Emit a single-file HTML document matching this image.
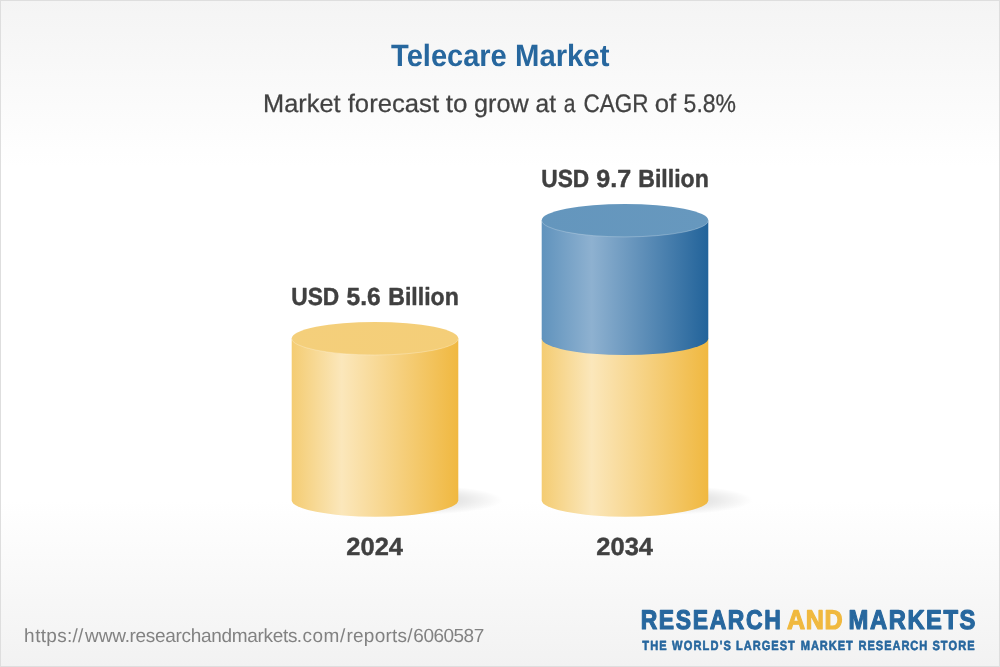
<!DOCTYPE html>
<html lang="en">
<head>
<meta charset="utf-8">
<title>Telecare Market</title>
<style>
  html, body { margin: 0; padding: 0; background: #ffffff; }
  body { width: 1000px; height: 667px; overflow: hidden; }
  svg { display: block; }
  text { font-family: "Liberation Sans", sans-serif; text-rendering: geometricPrecision; }
  .b { font-weight: bold; }
</style>
</head>
<body>
<svg width="1000" height="667" viewBox="0 0 1000 667">
  <defs>
    <linearGradient id="bg" x1="0" y1="0" x2="0" y2="1">
      <stop offset="0" stop-color="#f4f4f4"/>
      <stop offset="0.25" stop-color="#ffffff"/>
      <stop offset="0.75" stop-color="#ffffff"/>
      <stop offset="1" stop-color="#f2f2f2"/>
    </linearGradient>
    <linearGradient id="gy" x1="0" y1="0" x2="1" y2="0">
      <stop offset="0" stop-color="#f4cc72"/>
      <stop offset="0.30" stop-color="#fbe7bb"/>
      <stop offset="1" stop-color="#f0b840"/>
    </linearGradient>
    <linearGradient id="gb" x1="0" y1="0" x2="1" y2="0">
      <stop offset="0" stop-color="#6093bd"/>
      <stop offset="0.30" stop-color="#8eb1d0"/>
      <stop offset="1" stop-color="#22639a"/>
    </linearGradient>
    <linearGradient id="ty" x1="0" y1="0" x2="1" y2="0">
      <stop offset="0" stop-color="#f4cf7b"/>
      <stop offset="1" stop-color="#f4ce78"/>
    </linearGradient>
    <linearGradient id="tb" x1="0" y1="0" x2="1" y2="0">
      <stop offset="0" stop-color="#6496bd"/>
      <stop offset="1" stop-color="#6798be"/>
    </linearGradient>
    <radialGradient id="sh" cx="0.5" cy="0.5" r="0.5">
      <stop offset="0" stop-color="#000" stop-opacity="0.15"/>
      <stop offset="0.55" stop-color="#000" stop-opacity="0.09"/>
      <stop offset="1" stop-color="#000" stop-opacity="0"/>
    </radialGradient>
  </defs>

  <!-- background + frame -->
  <rect x="0" y="0" width="1000" height="667" fill="url(#bg)"/>
  <rect x="0.5" y="0.5" width="999" height="666" fill="none" stroke="#dedede" stroke-width="1"/>

  <!-- shadows -->
  <ellipse cx="415" cy="500" rx="88" ry="15" fill="url(#sh)"/>
  <ellipse cx="665" cy="500" rx="88" ry="15" fill="url(#sh)"/>

  <!-- cylinder 2024 -->
  <path d="M291.7 338.5 L291.7 500.2 A83.3 16.5 0 0 0 458.3 500.2 L458.3 338.5 Z" fill="url(#gy)"/>
  <ellipse cx="375" cy="338.5" rx="83.3" ry="16.5" fill="url(#ty)"/>
  <path d="M291.7 338.5 A83.3 16.5 0 0 0 458.3 338.5" fill="none" stroke="#ffffff" stroke-opacity="0.32" stroke-width="0.8"/>

  <!-- cylinder 2034 -->
  <path d="M541.7 338.5 L541.7 500.2 A83.3 16.5 0 0 0 708.3 500.2 L708.3 338.5 Z" fill="url(#gy)"/>
  <path d="M541.7 220.4 L541.7 338.5 A83.3 16.5 0 0 0 708.3 338.5 L708.3 220.4 Z" fill="url(#gb)"/>
  <ellipse cx="625" cy="220.4" rx="83.3" ry="16.5" fill="url(#tb)"/>
  <path d="M541.7 220.4 A83.3 16.5 0 0 0 708.3 220.4" fill="none" stroke="#ffffff" stroke-opacity="0.30" stroke-width="0.8"/>
  <!--TEXT-->
  <text class="b" y="66" font-size="30.8" fill="#27679e"><tspan x="391.11" textLength="115.64" lengthAdjust="spacingAndGlyphs">Telecare</tspan> <tspan x="515.02" textLength="94.38" lengthAdjust="spacingAndGlyphs">Market</tspan></text>
  <text y="112" font-size="25.3" fill="#424242" stroke="#424242" stroke-width="0.25" stroke-linejoin="round"><tspan x="263.03" textLength="77.56" lengthAdjust="spacingAndGlyphs">Market</tspan> <tspan x="347.74" textLength="91.32" lengthAdjust="spacingAndGlyphs">forecast</tspan> <tspan x="445.73" textLength="21.72" lengthAdjust="spacingAndGlyphs">to</tspan> <tspan x="474.05" textLength="54.76" lengthAdjust="spacingAndGlyphs">grow</tspan> <tspan x="535.58" textLength="20.52" lengthAdjust="spacingAndGlyphs">at</tspan> <tspan x="563.63" textLength="11.72" lengthAdjust="spacingAndGlyphs">a</tspan> <tspan x="583.5" textLength="65.03" lengthAdjust="spacingAndGlyphs">CAGR</tspan> <tspan x="654.83" textLength="21.42" lengthAdjust="spacingAndGlyphs">of</tspan> <tspan x="683.6" textLength="52.46" lengthAdjust="spacingAndGlyphs">5.8%</tspan></text>
  <text class="b" y="305" font-size="24.8" fill="#404040" stroke="#404040" stroke-width="0.45" stroke-linejoin="round"><tspan x="291.26" textLength="47.95" lengthAdjust="spacingAndGlyphs">USD</tspan> <tspan x="346.49" textLength="34.15" lengthAdjust="spacingAndGlyphs">5.6</tspan> <tspan x="388.27" textLength="70.5" lengthAdjust="spacingAndGlyphs">Billion</tspan></text>
  <text class="b" y="187" font-size="24.8" fill="#404040" stroke="#404040" stroke-width="0.45" stroke-linejoin="round"><tspan x="541.26" textLength="47.95" lengthAdjust="spacingAndGlyphs">USD</tspan> <tspan x="596.35" textLength="34.9" lengthAdjust="spacingAndGlyphs">9.7</tspan> <tspan x="638.27" textLength="70.5" lengthAdjust="spacingAndGlyphs">Billion</tspan></text>
  <text class="b" y="555" font-size="24.7" fill="#404040" stroke="#404040" stroke-width="0.4" stroke-linejoin="round"><tspan x="346.31" textLength="56.67" lengthAdjust="spacingAndGlyphs">2024</tspan></text>
  <text class="b" y="555" font-size="24.7" fill="#404040" stroke="#404040" stroke-width="0.4" stroke-linejoin="round"><tspan x="596.31" textLength="56.67" lengthAdjust="spacingAndGlyphs">2034</tspan></text>
  <text x="24.12" y="642" font-size="19" fill="#828282" dx="0 0.43 0.22 0.22 0.43 0.39 0.22 0.22 1.78 -0.14 -0.14 -0.14 -0.73 -0.2 -0.33 -0.29 -0.33 -0.33 -0.2 -0.29 -0.33 -0.33 -0.33 -0.33 -0.49 -0.33 -0.2 -0.29 -0.33 -0.16 -0.72 0.26 0.48 0.53 0.79 1.02 0.18 0.31 0.31 0.31 0.18 0.15 0.28 0.74 -0.52 -0.52 -0.52 -0.52 -0.52 -0.52">https://www.researchandmarkets.com/reports/6060587</text>
  <text class="b" transform="translate(0 629) scale(0.85 1)" font-size="27" stroke-width="1.2" stroke-linejoin="round"><tspan x="753.72" letter-spacing="1.911" fill="#27679e" stroke="#27679e">RESEARCH</tspan></text>
  <text class="b" transform="translate(0 629) scale(0.93 1)" font-size="27" stroke-width="1.2" stroke-linejoin="round"><tspan x="846.16" letter-spacing="0.727" fill="#f0b93f" stroke="#f0b93f">AND</tspan></text>
  <text class="b" transform="translate(0 629) scale(0.88 1)" font-size="27" stroke-width="1.2" stroke-linejoin="round"><tspan x="964.35" letter-spacing="1.762" fill="#27679e" stroke="#27679e">MARKETS</tspan></text>
  <text class="b" transform="translate(0 650) scale(0.84 1)" font-size="13.2" stroke-width="0.6" stroke-linejoin="round"><tspan x="764.69" letter-spacing="1.235" fill="#27679e" stroke="#27679e">THE</tspan> <tspan x="800.06" letter-spacing="1.393" fill="#27679e" stroke="#27679e">WORLD'S</tspan> <tspan x="876.19" letter-spacing="1.167" fill="#27679e" stroke="#27679e">LARGEST</tspan> <tspan x="953.22" letter-spacing="1.125" fill="#27679e" stroke="#27679e">MARKET</tspan> <tspan x="1022.03" letter-spacing="1.133" fill="#27679e" stroke="#27679e">RESEARCH</tspan> <tspan x="1110.02" letter-spacing="1.270" fill="#27679e" stroke="#27679e">STORE</tspan></text>
  <!--/TEXT-->
</svg>
</body>
</html>
